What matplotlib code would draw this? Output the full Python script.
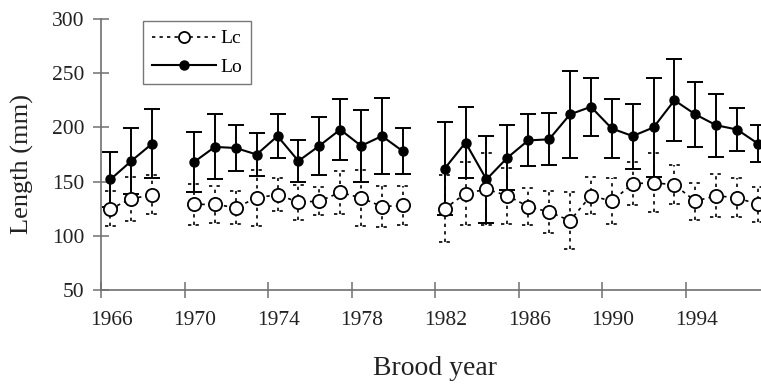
import numpy as np
import matplotlib
matplotlib.use("Agg")
import matplotlib.pyplot as plt
from matplotlib.lines import Line2D

plt.rcParams['font.family'] = ['Liberation Serif', 'DejaVu Serif']

years = list(range(1966, 1998))
nan = np.nan
lo_mean = [152, 169, 185, nan, 168, 182, 181, 175, 192, 169, 183, 198, 183, 192, 178, nan,
           162, 186, 152, 172, 188, 189, 212, 219, 199, 192, 200, 225, 212, 202, 198, 185]
lo_err = [25, 30, 32, nan, 28, 30, 21, 20, 20, 19, 27, 28, 33, 35, 21, nan,
          43, 33, 40, 30, 24, 24, 40, 27, 27, 30, 46, 38, 30, 29, 20, 17]
lc_mean = [125, 134, 138, nan, 129, 129, 126, 135, 138, 131, 132, 140, 135, 127, 128, nan,
           125, 139, 143, 137, 127, 122, 114, 137, 132, 148, 149, 147, 132, 137, 135, 129]
lc_err = [16, 20, 18, nan, 19, 17, 15, 26, 15, 16, 13, 20, 26, 19, 18, nan,
          31, 29, 33, 26, 17, 19, 26, 17, 21, 20, 27, 18, 17, 20, 18, 16]
xtick_years = [1966, 1970, 1974, 1978, 1982, 1986, 1990, 1994]

fig = plt.figure(figsize=(7.61, 3.85), dpi=100)
ax = fig.add_axes([101/761, 1-290/385, 668.5/761, 271/385])

x = np.array(years) + 0.45
lo_m = np.array(lo_mean, float); lo_e = np.array(lo_err, float)
lc_m = np.array(lc_mean, float); lc_e = np.array(lc_err, float)

dot = (0, (2.0, 2.5))
# Lo: solid with caps
ax.errorbar(x, lo_m, yerr=lo_e, fmt='-', color='black', lw=1.5, elinewidth=1.4,
            capsize=6, capthick=1.4, marker='o', markersize=6.5,
            markerfacecolor='black', markeredgecolor='black', zorder=3)
# Lc: dotted error bars and caps
ok = ~np.isnan(lc_m)
ax.vlines(x[ok], (lc_m - lc_e)[ok], (lc_m + lc_e)[ok], colors='black', linestyles=dot,
          linewidth=1.2, zorder=4)
hw = 0.28
for yy in [(lc_m - lc_e), (lc_m + lc_e)]:
    ax.hlines(yy[ok], x[ok] - hw, x[ok] + hw, colors='black', linestyles=dot,
              linewidth=1.2, zorder=4)
ax.plot(x, lc_m, linestyle=dot, color='black', lw=1.2, marker='o', markersize=9.5,
        markerfacecolor='white', markeredgecolor='black', markeredgewidth=1.3, zorder=5)

ax.set_xlim(1966, 1998)
ax.set_ylim(50, 300)
# tick marks at category boundaries, labels centred on the category
ax.set_xticks(xtick_years)
ax.set_xticklabels([])
ax.set_xticks([y + 0.5 for y in xtick_years], minor=True)
ax.set_xticklabels([str(y) for y in xtick_years], minor=True)
ax.set_yticks([50, 100, 150, 200, 250, 300])

for s in ['top', 'right']:
    ax.spines[s].set_visible(False)
for s in ['left', 'bottom']:
    ax.spines[s].set_color('#707070')
    ax.spines[s].set_linewidth(1.2)
ax.tick_params(axis='both', which='major', direction='inout', length=12, width=1.1,
               color='#707070', labelsize=15.5, labelcolor='#222222')
ax.tick_params(axis='x', which='minor', length=0, labelsize=15.5, labelcolor='#222222', pad=15)
ax.tick_params(axis='y', which='major', pad=6)

fig.text(22/761, 1-164/385, 'Length (mm)', fontsize=19, color='#222222',
         ha='center', va='center', rotation=90)
fig.text(435/761, 1-375/385, 'Brood year', fontsize=20, color='#222222',
         ha='center', va='baseline')

handles = [
    Line2D([0], [0], linestyle=dot, color='black', lw=1.2, marker='o', markersize=8,
           markerfacecolor='white', markeredgecolor='black', markeredgewidth=1.3),
    Line2D([0], [0], linestyle='-', color='black', lw=1.5, marker='o', markersize=6.5,
           markerfacecolor='black', markeredgecolor='black'),
]
leg = ax.legend(handles, ['Lc', 'Lo'], loc='upper left',
                bbox_to_anchor=(143/761, 1-21/385), bbox_transform=fig.transFigure,
                borderaxespad=0, frameon=True, fancybox=False, edgecolor='#555555',
                fontsize=14, handlelength=3.3, borderpad=0.45, labelspacing=0.55,
                handletextpad=0.25)
leg.get_frame().set_linewidth(1.0)

fig.savefig('out.png', dpi=100)
